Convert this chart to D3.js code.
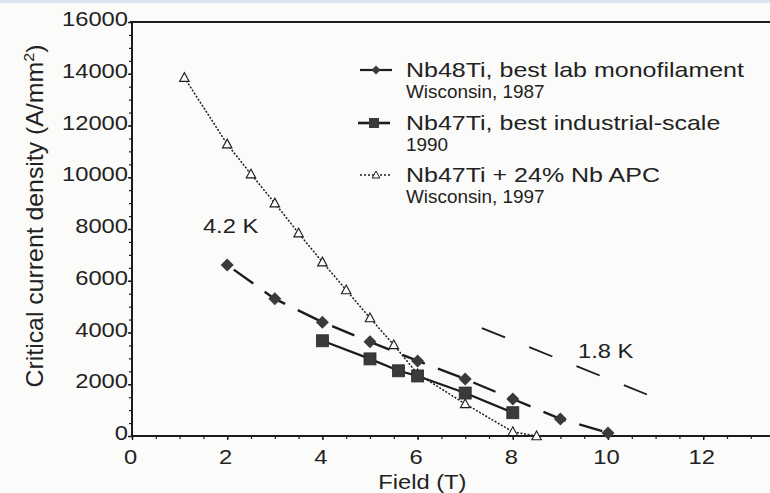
<!DOCTYPE html>
<html>
<head>
<meta charset="utf-8">
<script src="https://cdn.jsdelivr.net/npm/d3@7"></script>
<style>
  html, body { margin: 0; padding: 0; background: #fbfbf9; }
  svg { display: block; }
  text { font-family: "Liberation Sans", Arial, Helvetica, sans-serif; fill: #222; }
</style>
</head>
<body>
<svg id="chart" width="770" height="493"></svg>
<script>
// Critical current density of Nb-Ti conductors versus applied field

// Nb48Ti, best lab monofilament (Wisconsin, 1987)
const fieldLab = [2, 3, 4, 5, 6, 7, 8, 9, 10];
const jcLab = [6610, 5300, 4400, 3640, 2900, 2200, 1430, 660, 120];

// Nb47Ti, best industrial-scale (1990)
const fieldInd = [4, 5, 5.6, 6, 7, 8];
const jcInd = [3680, 2980, 2520, 2320, 1660, 900];

// Nb47Ti + 24% Nb APC (Wisconsin, 1997)
const fieldApc = [1.1, 2, 2.5, 3, 3.5, 4, 4.5, 5, 5.5, 6, 7, 8, 8.5];
const jcApc = [13850, 11280, 10120, 9000, 7840, 6720, 5640, 4560, 3520, 2400, 1240, 160, 0];

// Estimated 1.8 K trend
const field18K = [7.35, 10.85];
const jc18K = [4170, 1580];

// Axis ticks
const xTicks = [0, 2, 4, 6, 8, 10, 12];
const yTicks = [0, 2000, 4000, 6000, 8000, 10000, 12000, 14000, 16000];

const legendMain = ["Nb48Ti, best lab monofilament", "Nb47Ti, best industrial-scale", "Nb47Ti + 24% Nb APC"];
const legendSub = ["Wisconsin, 1987", "1990", "Wisconsin, 1997"];

const svg = d3.select("#chart");
const W = 770, H = 493;
const ink = "#1c1c1c";
const markFill = "#3a3a3a";

// faint blue strip along the top edge
svg.append("rect").attr("x", 0).attr("y", 0).attr("width", W).attr("height", 3).attr("fill", "#d6e5f0");

const x = d3.scaleLinear().domain([0, 14]).range([132, 132 + 14 * 47.6]);
const y = d3.scaleLinear().domain([0, 16000]).range([436, 22]);

const SX = 1.13; // horizontal widening of the lettering

// minor ticks
svg.append("g").attr("transform", `translate(${x(0)},0)`)
  .call(d3.axisLeft(y).tickValues(d3.range(0, 16001, 500)).tickSize(3).tickFormat(""))
  .call(g => g.select(".domain").remove())
  .call(g => g.selectAll("line").attr("stroke", ink).attr("stroke-width", 1.2));
svg.append("g").attr("transform", `translate(0,${y(0)})`)
  .call(d3.axisBottom(x).tickValues(d3.range(0, 14.01, 0.5)).tickSize(3).tickFormat(""))
  .call(g => g.select(".domain").remove())
  .call(g => g.selectAll("line").attr("stroke", ink).attr("stroke-width", 1.2));

// major ticks + labels
const yAxis = svg.append("g").attr("transform", `translate(${x(0)},0)`)
  .call(d3.axisLeft(y).tickValues(yTicks).tickSize(4).tickPadding(3).tickFormat(d3.format("d")));
yAxis.select(".domain").remove();
yAxis.selectAll("line").attr("stroke", ink).attr("stroke-width", 1.4);
yAxis.selectAll("text")
  .attr("font-size", 21).attr("fill", "#222").attr("dy", null).attr("x", null).attr("y", null)
  .attr("transform", `translate(-4,3.5) scale(${SX},1)`);

const xAxis = svg.append("g").attr("transform", `translate(0,${y(0)})`)
  .call(d3.axisBottom(x).tickValues(xTicks).tickSize(4).tickFormat(d3.format("d")));
xAxis.select(".domain").remove();
xAxis.selectAll("line").attr("stroke", ink).attr("stroke-width", 1.4);
xAxis.selectAll("text")
  .attr("font-size", 21).attr("fill", "#222").attr("dy", null).attr("y", null)
  .attr("transform", `translate(-2,28) scale(${SX},1)`);

// frame: left axis, bottom axis, top border
svg.append("line").attr("x1", x(0)).attr("x2", x(0)).attr("y1", y(16000)).attr("y2", y(0))
  .attr("stroke", ink).attr("stroke-width", 2);
svg.append("line").attr("x1", x(0)).attr("x2", W).attr("y1", y(0)).attr("y2", y(0))
  .attr("stroke", ink).attr("stroke-width", 2);
svg.append("line").attr("x1", x(0) - 2).attr("x2", W).attr("y1", y(16000)).attr("y2", y(16000))
  .attr("stroke", ink).attr("stroke-width", 2);

// axis titles
svg.append("text")
  .attr("transform", `translate(43,216) rotate(-90) scale(1.08,1)`)
  .attr("text-anchor", "middle").attr("font-size", 23)
  .call(t => {
    t.append("tspan").text("Critical current density (A/mm");
    t.append("tspan").attr("font-size", 15).attr("dy", -9).text("2");
    t.append("tspan").attr("dy", 9).text(")");
  });
svg.append("text")
  .attr("transform", `translate(${x(6.1)},488.5) scale(${SX},1)`)
  .attr("text-anchor", "middle").attr("font-size", 21)
  .text("Field (T)");

const line = d3.line().x(d => x(d[0])).y(d => y(d[1]));
const zip = (a, b) => a.map((v, i) => [v, b[i]]);

// 1.8 K trend
svg.append("path").datum(zip(field18K, jc18K)).attr("d", line)
  .attr("fill", "none").attr("stroke", ink).attr("stroke-width", 1.8).attr("stroke-dasharray", "25 26");

// APC series: dotted
svg.append("path").datum(zip(fieldApc, jcApc)).attr("d", line)
  .attr("fill", "none").attr("stroke", ink).attr("stroke-width", 1.5).attr("stroke-dasharray", "2 1.6");

// industrial series: solid
svg.append("path").datum(zip(fieldInd, jcInd)).attr("d", line)
  .attr("fill", "none").attr("stroke", ink).attr("stroke-width", 2.2);

// lab monofilament: long dashes
svg.append("path").datum(zip(fieldLab, jcLab)).attr("d", line)
  .attr("fill", "none").attr("stroke", ink).attr("stroke-width", 2.4)
  .attr("stroke-dasharray", "24 14").attr("stroke-dashoffset", -8);

const diamond = s => `M0,${-s}L${s},0L0,${s}L${-s},0Z`;
const tri = s => `M0,${-s}L${s * 0.95},${s * 0.75}L${-s * 0.95},${s * 0.75}Z`;

svg.append("g").selectAll("path").data(zip(fieldApc, jcApc)).join("path")
  .attr("transform", d => `translate(${x(d[0])},${y(d[1])})`)
  .attr("d", tri(5)).attr("fill", "#fbfbf9").attr("stroke", ink).attr("stroke-width", 1.1);

svg.append("g").selectAll("rect").data(zip(fieldInd, jcInd)).join("rect")
  .attr("x", d => x(d[0]) - 6).attr("y", d => y(d[1]) - 6)
  .attr("width", 12).attr("height", 12).attr("fill", markFill).attr("stroke", "#2a2a2a").attr("stroke-width", 0.8);

svg.append("g").selectAll("path").data(zip(fieldLab, jcLab)).join("path")
  .attr("transform", d => `translate(${x(d[0])},${y(d[1])})`)
  .attr("d", diamond(6.5)).attr("fill", markFill);

// temperature annotations
svg.append("text").attr("transform", `translate(${x(1.49)},${y(7850)}) scale(${SX},1)`)
  .attr("font-size", 21).text("4.2 K");
svg.append("text").attr("transform", `translate(${x(9.37)},${y(3010)}) scale(${SX},1)`)
  .attr("font-size", 21).text("1.8 K");

// legend
const legend = svg.append("g");
const rowY = [70, 123, 175];
rowY.forEach((ry, i) => {
  const g = legend.append("g").attr("transform", `translate(0,${ry})`);
  if (i === 0) {
    g.append("line").attr("x1", 360).attr("x2", 392).attr("y1", 0).attr("y2", 0).attr("stroke", ink).attr("stroke-width", 2.2);
    g.append("path").attr("transform", "translate(376,0)").attr("d", diamond(4.5)).attr("fill", markFill);
  } else if (i === 1) {
    g.append("line").attr("x1", 358).attr("x2", 390).attr("y1", 0).attr("y2", 0).attr("stroke", ink).attr("stroke-width", 2.6);
    g.append("rect").attr("x", 369).attr("y", -5).attr("width", 10).attr("height", 10).attr("fill", markFill);
  } else {
    g.append("line").attr("x1", 360).attr("x2", 392).attr("y1", 0).attr("y2", 0).attr("stroke", ink).attr("stroke-width", 1.5).attr("stroke-dasharray", "2 2");
    g.append("path").attr("transform", "translate(376,0)").attr("d", tri(4)).attr("fill", "#fbfbf9").attr("stroke", ink).attr("stroke-width", 1);
  }
  g.append("text").attr("transform", `translate(406,7) scale(1.19,1)`).attr("font-size", 21).text(legendMain[i]);
  g.append("text").attr("transform", `translate(406,28) scale(1.08,1)`).attr("font-size", 17.5).text(legendSub[i]);
});
</script>
</body>
</html>
